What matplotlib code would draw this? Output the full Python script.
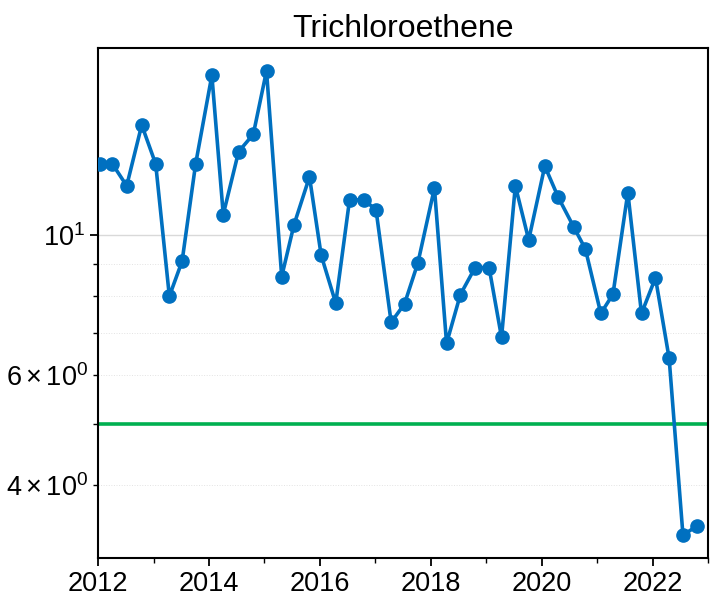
import matplotlib
matplotlib.use("Agg")
import matplotlib.pyplot as plt
import matplotlib.dates as mdates
from matplotlib.ticker import LogLocator
import pandas as pd

plt.rcParams["font.family"] = ["Liberation Sans", "DejaVu Sans"]
plt.rcParams["mathtext.fontset"] = "custom"
plt.rcParams["mathtext.rm"] = "Liberation Sans"
plt.rcParams["mathtext.it"] = "Liberation Sans:italic"

# ── Data ──────────────────────────────────────────────────────────────────────
sample_dates = [
    "2012-01-15", "2012-04-05", "2012-07-08", "2012-10-15",
    "2013-01-15", "2013-04-15", "2013-07-08", "2013-10-05",
    "2014-01-20", "2014-04-05", "2014-07-15", "2014-10-20",
    "2015-01-15", "2015-04-25", "2015-07-15", "2015-10-25",
    "2016-01-10", "2016-04-15", "2016-07-15", "2016-10-15",
    "2017-01-05", "2017-04-15", "2017-07-12", "2017-10-08",
    "2018-01-25", "2018-04-15", "2018-07-15", "2018-10-20",
    "2019-01-20", "2019-04-12", "2019-07-12", "2019-10-08",
    "2020-01-22", "2020-04-20", "2020-08-01", "2020-10-15",
    "2021-01-25", "2021-04-15", "2021-07-22", "2021-10-20",
    "2022-01-20", "2022-04-20", "2022-07-20", "2022-10-20",
]
tce_values = [
    13.0, 13.0, 12.0, 15.0,
    13.0, 8.0, 9.1, 13.0,
    18.0, 10.8, 13.6, 14.5,
    18.3, 8.6, 10.4, 12.4,
    9.3, 7.8, 11.4, 11.4,
    11.0, 7.27, 7.78, 9.04,
    11.9, 6.73, 8.05, 8.89,
    8.89, 6.88, 12.0, 9.84,
    12.9, 11.5, 10.3, 9.52,
    7.51, 8.06, 11.7, 7.51,
    8.56, 6.37, 3.33, 3.44,
]
cleanup_level = 5.0
chart_title = "Trichloroethene"

dates = pd.to_datetime(sample_dates)

# ── Figure ────────────────────────────────────────────────────────────────────
fig = plt.figure(figsize=(7.19, 6.01), dpi=100)
ax = fig.add_axes([0.1363, 0.0715, 0.8484, 0.8486])

ax.plot(dates, tce_values, color="#0070C0", linewidth=2.6,
        marker="o", markersize=9.5, zorder=3)
ax.axhline(cleanup_level, color="#00B050", linewidth=2.6, zorder=2)

ax.set_yscale("log")
ax.set_ylim(3.06, 19.9)
ax.set_xlim(pd.Timestamp("2012-01-01"), pd.Timestamp("2023-01-01"))

ax.yaxis.set_minor_locator(LogLocator(base=10, subs=range(2, 10)))
ax.xaxis.set_major_locator(mdates.YearLocator(2))
ax.xaxis.set_minor_locator(mdates.YearLocator(1))
ax.xaxis.set_major_formatter(mdates.DateFormatter("%Y"))

ax.grid(which="major", axis="y", color="#d9d9d9", linewidth=1.0)
ax.grid(which="minor", axis="y", color="#e3e3e3", linewidth=0.7, linestyle=":")

for side in ["top", "right", "left", "bottom"]:
    ax.spines[side].set_linewidth(1.5)
ax.tick_params(which="major", length=6, width=1.3, labelsize=19.5)
ax.tick_params(which="minor", length=3.5, width=1.0, labelsize=19.5)

ax.set_title(chart_title, fontsize=23, pad=8)

fig.savefig("out.png", dpi=100)
plt.close(fig)
